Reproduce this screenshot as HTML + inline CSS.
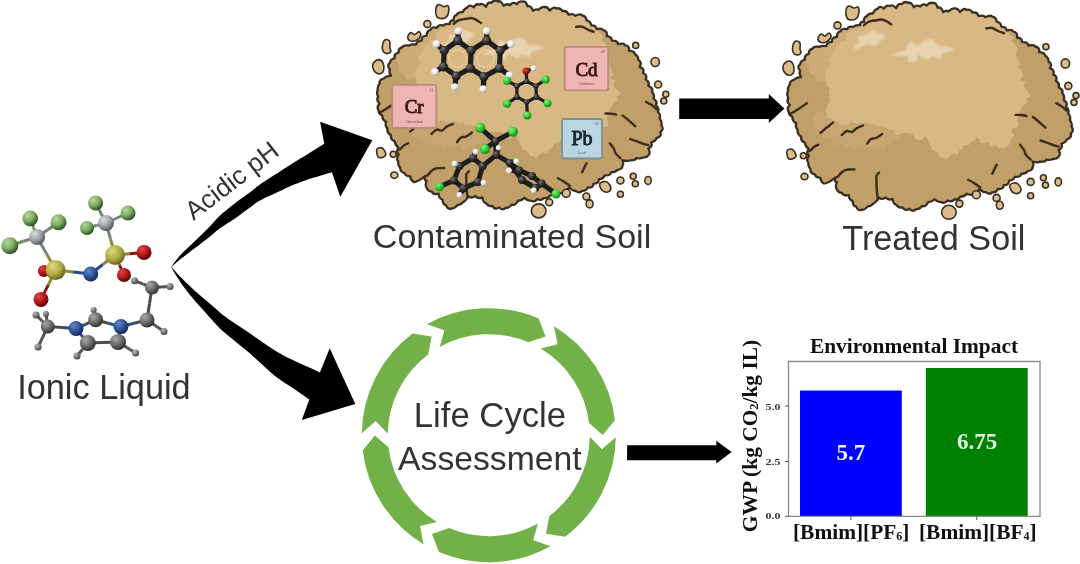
<!DOCTYPE html>
<html><head><meta charset="utf-8"><style>
html,body{margin:0;padding:0;background:#fff;width:1080px;height:564px;overflow:hidden}
svg{display:block}
svg{will-change:transform;filter:blur(0.3px)}
</style></head><body>
<svg width="1080" height="564" viewBox="0 0 1080 564">
<defs>
 <filter id="soft" x="-20%" y="-20%" width="140%" height="140%"><feGaussianBlur stdDeviation="0.9"/></filter>
 <radialGradient id="gF" cx="35%" cy="30%" r="75%"><stop offset="0" stop-color="#b5d69c"/><stop offset="0.5" stop-color="#80ae64"/><stop offset="1" stop-color="#24441a"/></radialGradient>
 <radialGradient id="gC" cx="35%" cy="30%" r="75%"><stop offset="0" stop-color="#d8dde0"/><stop offset="0.55" stop-color="#9aa0a4"/><stop offset="1" stop-color="#4a4f52"/></radialGradient>
 <radialGradient id="gCd" cx="35%" cy="30%" r="75%"><stop offset="0" stop-color="#a8a8a8"/><stop offset="0.5" stop-color="#6e6e6e"/><stop offset="1" stop-color="#2a2a2a"/></radialGradient>
 <radialGradient id="gS" cx="35%" cy="30%" r="75%"><stop offset="0" stop-color="#dada7a"/><stop offset="0.55" stop-color="#b0ad45"/><stop offset="1" stop-color="#5f5c18"/></radialGradient>
 <radialGradient id="gO" cx="35%" cy="30%" r="75%"><stop offset="0" stop-color="#e04848"/><stop offset="0.55" stop-color="#b01414"/><stop offset="1" stop-color="#4a0404"/></radialGradient>
 <radialGradient id="gN" cx="35%" cy="30%" r="75%"><stop offset="0" stop-color="#6286c8"/><stop offset="0.55" stop-color="#2f4f96"/><stop offset="1" stop-color="#142450"/></radialGradient>
 <radialGradient id="gHd" cx="35%" cy="30%" r="75%"><stop offset="0" stop-color="#b8b8b8"/><stop offset="0.55" stop-color="#777"/><stop offset="1" stop-color="#3a3a3a"/></radialGradient>
 <radialGradient id="gH" cx="35%" cy="30%" r="75%"><stop offset="0" stop-color="#f4f4f4"/><stop offset="0.6" stop-color="#c4c4c4"/><stop offset="1" stop-color="#777"/></radialGradient>
 <radialGradient id="gCl" cx="35%" cy="30%" r="75%"><stop offset="0" stop-color="#8cf08c"/><stop offset="0.55" stop-color="#2fc42f"/><stop offset="1" stop-color="#137a13"/></radialGradient>
 <radialGradient id="gK" cx="35%" cy="30%" r="75%"><stop offset="0" stop-color="#777"/><stop offset="0.5" stop-color="#333"/><stop offset="1" stop-color="#111"/></radialGradient>
 <radialGradient id="gW" cx="35%" cy="30%" r="75%"><stop offset="0" stop-color="#ffffff"/><stop offset="0.6" stop-color="#e6e6e6"/><stop offset="1" stop-color="#9a9a9a"/></radialGradient>
</defs>

<g>
<line x1="30.2" y1="218.4" x2="33.6" y2="227.7" stroke="#6a8a58" stroke-width="3"/>
<line x1="33.6" y1="227.7" x2="37.1" y2="237.0" stroke="#7a8084" stroke-width="3"/>
<line x1="58.5" y1="222.3" x2="47.8" y2="229.7" stroke="#6a8a58" stroke-width="3"/>
<line x1="47.8" y1="229.7" x2="37.1" y2="237.0" stroke="#7a8084" stroke-width="3"/>
<line x1="9.8" y1="245.7" x2="23.5" y2="241.3" stroke="#6a8a58" stroke-width="3"/>
<line x1="23.5" y1="241.3" x2="37.1" y2="237.0" stroke="#7a8084" stroke-width="3"/>
<line x1="37.1" y1="237.0" x2="46.4" y2="253.6" stroke="#7a8084" stroke-width="3"/>
<line x1="46.4" y1="253.6" x2="55.6" y2="270.1" stroke="#8a8838" stroke-width="3"/>
<line x1="55.6" y1="270.1" x2="49.8" y2="270.6" stroke="#8a8838" stroke-width="3"/>
<line x1="49.8" y1="270.6" x2="43.9" y2="271.1" stroke="#901414" stroke-width="3"/>
<line x1="55.6" y1="270.1" x2="48.3" y2="284.8" stroke="#8a8838" stroke-width="3"/>
<line x1="48.3" y1="284.8" x2="41.0" y2="299.4" stroke="#901414" stroke-width="3"/>
<line x1="55.6" y1="270.1" x2="73.2" y2="272.1" stroke="#8a8838" stroke-width="3"/>
<line x1="73.2" y1="272.1" x2="90.7" y2="274.0" stroke="#2a4a8a" stroke-width="3"/>
<line x1="90.7" y1="274.0" x2="102.8" y2="264.5" stroke="#2a4a8a" stroke-width="3"/>
<line x1="102.8" y1="264.5" x2="115.0" y2="255.0" stroke="#8a8838" stroke-width="3"/>
<line x1="115.0" y1="255.0" x2="110.5" y2="239.0" stroke="#8a8838" stroke-width="3"/>
<line x1="110.5" y1="239.0" x2="106.0" y2="223.0" stroke="#7a8084" stroke-width="3"/>
<line x1="106.0" y1="223.0" x2="100.8" y2="213.0" stroke="#7a8084" stroke-width="3"/>
<line x1="100.8" y1="213.0" x2="95.6" y2="203.0" stroke="#6a8a58" stroke-width="3"/>
<line x1="106.0" y1="223.0" x2="117.0" y2="218.0" stroke="#7a8084" stroke-width="3"/>
<line x1="117.0" y1="218.0" x2="128.0" y2="213.0" stroke="#6a8a58" stroke-width="3"/>
<line x1="106.0" y1="223.0" x2="96.5" y2="225.5" stroke="#7a8084" stroke-width="3"/>
<line x1="96.5" y1="225.5" x2="87.0" y2="228.0" stroke="#6a8a58" stroke-width="3"/>
<line x1="115.0" y1="255.0" x2="129.5" y2="253.7" stroke="#8a8838" stroke-width="3"/>
<line x1="129.5" y1="253.7" x2="144.0" y2="252.4" stroke="#901414" stroke-width="3"/>
<line x1="115.0" y1="255.0" x2="119.5" y2="265.0" stroke="#8a8838" stroke-width="3"/>
<line x1="119.5" y1="265.0" x2="124.0" y2="275.0" stroke="#901414" stroke-width="3"/>
<line x1="47.8" y1="326.6" x2="41.9" y2="320.8" stroke="#4a4a4a" stroke-width="3"/>
<line x1="41.9" y1="320.8" x2="36.0" y2="315.0" stroke="#555" stroke-width="3"/>
<line x1="47.8" y1="326.6" x2="46.9" y2="320.3" stroke="#4a4a4a" stroke-width="3"/>
<line x1="46.9" y1="320.3" x2="46.0" y2="314.0" stroke="#555" stroke-width="3"/>
<line x1="47.8" y1="326.6" x2="42.9" y2="336.8" stroke="#4a4a4a" stroke-width="3"/>
<line x1="42.9" y1="336.8" x2="38.0" y2="347.0" stroke="#555" stroke-width="3"/>
<line x1="47.8" y1="326.6" x2="61.9" y2="327.6" stroke="#4a4a4a" stroke-width="3"/>
<line x1="61.9" y1="327.6" x2="76.0" y2="328.5" stroke="#2a4a8a" stroke-width="3"/>
<line x1="76.0" y1="328.5" x2="85.8" y2="324.1" stroke="#2a4a8a" stroke-width="3"/>
<line x1="85.8" y1="324.1" x2="95.6" y2="319.8" stroke="#4a4a4a" stroke-width="3"/>
<line x1="95.6" y1="319.8" x2="94.7" y2="314.9" stroke="#4a4a4a" stroke-width="3"/>
<line x1="94.7" y1="314.9" x2="93.7" y2="310.0" stroke="#555" stroke-width="3"/>
<line x1="95.6" y1="319.8" x2="108.3" y2="323.2" stroke="#4a4a4a" stroke-width="3"/>
<line x1="108.3" y1="323.2" x2="121.0" y2="326.6" stroke="#2a4a8a" stroke-width="3"/>
<line x1="121.0" y1="326.6" x2="119.5" y2="334.3" stroke="#2a4a8a" stroke-width="3"/>
<line x1="119.5" y1="334.3" x2="118.0" y2="342.0" stroke="#4a4a4a" stroke-width="3"/>
<line x1="118.0" y1="342.0" x2="102.9" y2="342.5" stroke="#4a4a4a" stroke-width="3"/>
<line x1="102.9" y1="342.5" x2="87.8" y2="343.0" stroke="#4a4a4a" stroke-width="3"/>
<line x1="87.8" y1="343.0" x2="81.9" y2="335.8" stroke="#4a4a4a" stroke-width="3"/>
<line x1="81.9" y1="335.8" x2="76.0" y2="328.5" stroke="#2a4a8a" stroke-width="3"/>
<line x1="87.8" y1="343.0" x2="82.4" y2="349.5" stroke="#4a4a4a" stroke-width="3"/>
<line x1="82.4" y1="349.5" x2="77.0" y2="356.0" stroke="#555" stroke-width="3"/>
<line x1="118.0" y1="342.0" x2="126.8" y2="347.5" stroke="#4a4a4a" stroke-width="3"/>
<line x1="126.8" y1="347.5" x2="135.6" y2="353.0" stroke="#555" stroke-width="3"/>
<line x1="121.0" y1="326.6" x2="134.0" y2="323.3" stroke="#2a4a8a" stroke-width="3"/>
<line x1="134.0" y1="323.3" x2="147.0" y2="320.0" stroke="#4a4a4a" stroke-width="3"/>
<line x1="147.0" y1="320.0" x2="155.5" y2="325.8" stroke="#4a4a4a" stroke-width="3"/>
<line x1="155.5" y1="325.8" x2="164.0" y2="331.5" stroke="#555" stroke-width="3"/>
<line x1="147.0" y1="320.0" x2="149.5" y2="303.8" stroke="#4a4a4a" stroke-width="3"/>
<line x1="149.5" y1="303.8" x2="152.0" y2="287.6" stroke="#4a4a4a" stroke-width="3"/>
<line x1="152.0" y1="287.6" x2="161.0" y2="287.1" stroke="#4a4a4a" stroke-width="3"/>
<line x1="161.0" y1="287.1" x2="170.0" y2="286.6" stroke="#555" stroke-width="3"/>
<line x1="152.0" y1="287.6" x2="143.3" y2="284.1" stroke="#4a4a4a" stroke-width="3"/>
<line x1="143.3" y1="284.1" x2="134.6" y2="280.7" stroke="#555" stroke-width="3"/>
<circle cx="43.9" cy="271.1" r="6.0" fill="url(#gO)"/>
<circle cx="30.2" cy="218.4" r="7.8" fill="url(#gF)"/>
<circle cx="58.5" cy="222.3" r="8.0" fill="url(#gF)"/>
<circle cx="9.8" cy="245.7" r="8.5" fill="url(#gF)"/>
<circle cx="37.1" cy="237.0" r="8.0" fill="url(#gC)"/>
<circle cx="55.6" cy="270.1" r="10.0" fill="url(#gS)"/>
<circle cx="41.0" cy="299.4" r="7.5" fill="url(#gO)"/>
<circle cx="90.7" cy="274.0" r="7.5" fill="url(#gN)"/>
<circle cx="95.6" cy="203.0" r="7.5" fill="url(#gF)"/>
<circle cx="128.0" cy="213.0" r="7.5" fill="url(#gF)"/>
<circle cx="87.0" cy="228.0" r="7.0" fill="url(#gF)"/>
<circle cx="106.0" cy="223.0" r="8.0" fill="url(#gC)"/>
<circle cx="115.0" cy="255.0" r="10.0" fill="url(#gS)"/>
<circle cx="144.0" cy="252.4" r="7.5" fill="url(#gO)"/>
<circle cx="124.0" cy="275.0" r="7.0" fill="url(#gO)"/>
<circle cx="36.0" cy="315.0" r="3.5" fill="url(#gHd)"/>
<circle cx="46.0" cy="314.0" r="3.0" fill="url(#gHd)"/>
<circle cx="38.0" cy="347.0" r="3.5" fill="url(#gHd)"/>
<circle cx="47.8" cy="326.6" r="7.0" fill="url(#gCd)"/>
<circle cx="93.7" cy="310.0" r="3.0" fill="url(#gHd)"/>
<circle cx="95.6" cy="319.8" r="7.5" fill="url(#gCd)"/>
<circle cx="76.0" cy="328.5" r="7.5" fill="url(#gN)"/>
<circle cx="121.0" cy="326.6" r="7.5" fill="url(#gN)"/>
<circle cx="77.0" cy="356.0" r="3.5" fill="url(#gHd)"/>
<circle cx="135.6" cy="353.0" r="3.5" fill="url(#gHd)"/>
<circle cx="87.8" cy="343.0" r="8.0" fill="url(#gCd)"/>
<circle cx="118.0" cy="342.0" r="8.0" fill="url(#gCd)"/>
<circle cx="164.0" cy="331.5" r="3.5" fill="url(#gHd)"/>
<circle cx="147.0" cy="320.0" r="7.5" fill="url(#gCd)"/>
<circle cx="170.0" cy="286.6" r="3.5" fill="url(#gHd)"/>
<circle cx="134.6" cy="280.7" r="3.5" fill="url(#gHd)"/>
<circle cx="152.0" cy="287.6" r="7.0" fill="url(#gCd)"/>
</g>
<text x="17.2" y="399.0" font-family="Liberation Sans" font-size="34.3" font-weight="normal" fill="#333333" text-anchor="start" >Ionic Liquid</text>
<text x="372.8" y="248.0" font-family="Liberation Sans" font-size="34.1" font-weight="normal" fill="#333333" text-anchor="start" >Contaminated Soil</text>
<text x="842.3" y="250.0" font-family="Liberation Sans" font-size="34.2" font-weight="normal" fill="#333333" text-anchor="start" >Treated Soil</text>
<text x="413.8" y="426.5" font-family="Liberation Sans" font-size="34.7" font-weight="normal" fill="#333333" text-anchor="start" >Life Cycle</text>
<text x="398.1" y="470.0" font-family="Liberation Sans" font-size="33.7" font-weight="normal" fill="#333333" text-anchor="start" >Assessment</text>
<text x="0" y="0" font-family="Liberation Sans" font-size="26" fill="#333333" transform="translate(193.5,221) rotate(-37.5)">Acidic pH</text>
<path d="M171.5,266.5 C172.9,264.7 176.1,259.8 180.0,255.5 C183.9,251.2 190.0,245.9 195.0,241.0 C200.0,236.1 205.8,230.6 210.0,226.3 C214.2,222.1 215.8,219.3 220.0,215.5 C224.2,211.7 230.0,207.1 235.0,203.2 C240.0,199.3 245.8,195.4 250.0,192.3 C254.2,189.2 255.0,188.0 260.0,184.5 C265.0,181.0 273.3,175.8 280.0,171.5 C286.7,167.2 292.6,163.4 300.0,158.8 C307.4,154.2 320.2,146.2 324.3,143.7 L320.1,121.8 L372.3,140.3 L340.3,196.7 L331.9,172.3 C326.6,174.0 308.6,179.1 300.0,182.2 C291.4,185.3 286.7,187.9 280.0,191.0 C273.3,194.1 265.0,197.8 260.0,200.5 C255.0,203.2 254.2,204.5 250.0,207.5 C245.8,210.5 240.0,215.0 235.0,218.5 C230.0,222.0 224.2,225.3 220.0,228.3 C215.8,231.3 214.2,233.2 210.0,236.5 C205.8,239.8 200.0,244.3 195.0,248.1 C190.0,251.9 183.9,256.4 180.0,259.5 C176.1,262.6 172.9,265.8 171.5,267.0 Z" fill="#000"/>
<path d="M171.5,266.5 C172.1,267.3 172.8,268.6 175.0,271.1 C177.2,273.6 181.7,278.2 185.0,281.5 C188.3,284.8 191.7,288.0 195.0,291.0 C198.3,294.0 201.7,296.7 205.0,299.5 C208.3,302.3 211.7,305.2 215.0,308.0 C218.3,310.8 219.2,312.2 225.0,316.5 C230.8,320.8 241.7,327.8 250.0,333.5 C258.3,339.2 267.5,345.9 275.0,350.5 C282.5,355.1 287.5,357.5 295.0,361.1 C302.5,364.8 315.8,370.5 319.9,372.4 L329.7,348.3 L355.3,404.1 L301.8,419.9 L309.3,399.6 C306.9,397.9 300.7,393.4 295.0,389.5 C289.3,385.6 282.5,382.1 275.0,376.1 C267.5,370.1 258.3,360.7 250.0,353.5 C241.7,346.3 230.8,338.1 225.0,333.0 C219.2,327.9 218.3,326.7 215.0,323.2 C211.7,319.7 208.3,315.7 205.0,312.0 C201.7,308.3 198.3,304.8 195.0,300.9 C191.7,297.0 188.3,293.1 185.0,288.6 C181.7,284.1 177.2,277.2 175.0,273.7 C172.8,270.2 172.1,268.5 171.5,267.5 Z" fill="#000"/>
<path d="M679.2,98.6 H768.8 V94 L784.4,108.6 L768.8,123.1 V119 H679.2 Z" fill="#000"/>
<path d="M627.1,445.3 H716.3 V440.7 L731.6,452.1 L716.3,463.4 V460.2 H627.1 Z" fill="#000"/>
<path d="M615.8,437.2 A127.0,127.0 0 0 1 565.1,536.8 L546.0,533.8 L549.4,516.0 A101.0,101.0 0 0 0 589.8,436.8 L601.9,449.3 Z" fill="#72b048"/>
<path d="M550.6,546.2 A127.0,127.0 0 0 1 439.0,552.0 L432.0,534.0 L449.2,528.1 A101.0,101.0 0 0 0 537.9,523.5 L533.2,540.2 Z" fill="#72b048"/>
<path d="M423.6,544.2 A127.0,127.0 0 0 1 362.7,450.5 L374.8,435.4 L388.5,447.3 A101.0,101.0 0 0 0 436.9,521.9 L420.0,526.1 Z" fill="#72b048"/>
<path d="M361.8,433.2 A127.0,127.0 0 0 1 412.5,333.6 L431.6,336.6 L428.2,354.4 A101.0,101.0 0 0 0 387.8,433.6 L375.7,421.1 Z" fill="#72b048"/>
<path d="M427.0,324.2 A127.0,127.0 0 0 1 538.6,318.4 L545.6,336.4 L528.4,342.3 A101.0,101.0 0 0 0 439.7,346.9 L444.4,330.2 Z" fill="#72b048"/>
<path d="M554.0,326.2 A127.0,127.0 0 0 1 614.9,419.9 L602.8,435.0 L589.1,423.1 A101.0,101.0 0 0 0 540.7,348.5 L557.6,344.3 Z" fill="#72b048"/>
<rect x="800" y="390.5" width="101.8" height="125.5" fill="#0000ff"/>
<rect x="925.8" y="368" width="101.9" height="148" fill="#008000"/>
<path d="M788.5,361.5 H1040 V516.3 H788.5 Z" fill="none" stroke="#8a8a8a" stroke-width="1.3"/>
<line x1="785" y1="406.0" x2="788.5" y2="406.0" stroke="#555" stroke-width="1"/>
<line x1="785" y1="461.5" x2="788.5" y2="461.5" stroke="#555" stroke-width="1"/>
<line x1="785" y1="516.3" x2="788.5" y2="516.3" stroke="#555" stroke-width="1"/>
<line x1="850.9" y1="516.3" x2="850.9" y2="520" stroke="#555" stroke-width="1"/>
<line x1="976.8" y1="516.3" x2="976.8" y2="520" stroke="#555" stroke-width="1"/>
<text x="914.0" y="353.0" font-family="Liberation Serif" font-size="21.4" font-weight="bold" fill="#111" text-anchor="middle" >Environmental Impact</text>
<text x="850.9" y="459.5" font-family="Liberation Serif" font-size="23.0" font-weight="bold" fill="#eef0ff" text-anchor="middle" >5.7</text>
<text x="977.0" y="449.0" font-family="Liberation Serif" font-size="23.0" font-weight="bold" fill="#e4f4e4" text-anchor="middle" >6.75</text>
<text x="793" y="538.5" font-family="Liberation Serif" font-size="21.4" font-weight="bold" fill="#111">[Bmim][PF<tspan font-size="12" dy="1">6</tspan><tspan dy="-1">]</tspan></text>
<text x="919" y="538.5" font-family="Liberation Serif" font-size="21.4" font-weight="bold" fill="#111">[Bmim][BF<tspan font-size="12" dy="1">4</tspan><tspan dy="-1">]</tspan></text>
<text x="0" y="0" font-family="Liberation Serif" font-size="21.4" font-weight="bold" fill="#111" text-anchor="middle" transform="translate(757,436) rotate(-90)">GWP (kg CO<tspan font-size="12.5" dy="1">2</tspan><tspan dy="-1">/kg IL)</tspan></text>
<text x="0" y="0" font-family="Liberation Serif" font-size="10" font-weight="bold" fill="#333" text-anchor="middle" transform="translate(773,409.5) scale(1.2,0.72)">5.0</text>
<text x="0" y="0" font-family="Liberation Serif" font-size="10" font-weight="bold" fill="#333" text-anchor="middle" transform="translate(773,464.8) scale(1.2,0.72)">2.5</text>
<text x="0" y="0" font-family="Liberation Serif" font-size="10" font-weight="bold" fill="#333" text-anchor="middle" transform="translate(773,519.3) scale(1.2,0.72)">0.0</text>
<defs><clipPath id="pclip"><path d="M797.7,130.0Q794.8,126.9 796.3,123.2Q791.6,120.5 792.7,117.2Q788.3,114.7 788.9,111.9Q786.3,108.4 789.8,105.0Q786.0,101.4 788.4,98.2Q786.4,94.5 788.0,91.2Q787.3,87.6 790.0,84.6Q788.9,81.3 794.7,79.4Q795.7,77.7 801.2,77.0Q798.6,73.4 800.2,71.0Q796.5,66.4 800.2,64.2Q800.1,60.9 805.0,59.6Q803.7,55.3 808.8,53.9Q808.4,49.9 812.9,48.3Q813.5,46.1 819.5,46.9Q821.2,45.4 826.3,46.1Q826.6,42.3 832.0,41.9Q831.5,37.3 836.9,37.0Q836.7,32.2 840.8,31.2Q841.6,27.9 847.2,29.2Q848.2,25.7 853.6,26.8Q855.6,24.7 860.0,25.4Q860.0,21.1 863.9,22.1Q863.6,16.8 866.6,16.5Q868.5,13.0 872.8,13.6Q874.5,9.6 877.8,8.7Q879.5,5.3 884.0,8.6Q886.1,4.7 890.0,6.0Q892.2,4.0 896.2,8.2Q898.1,2.7 901.7,4.2Q904.4,0.4 908.4,3.0Q910.7,1.4 913.9,7.2Q916.9,4.4 920.2,6.6Q923.5,2.6 926.8,5.6Q930.0,1.7 932.8,3.1Q935.7,1.7 937.8,7.8Q941.1,6.4 943.2,12.2Q946.3,9.9 948.5,11.3Q952.1,8.0 954.5,8.4Q957.9,8.1 960.0,12.0Q964.5,7.4 966.2,9.9Q970.5,8.8 972.6,12.6Q977.1,11.6 978.6,16.1Q983.3,14.6 985.4,17.2Q990.4,14.6 992.2,16.7Q996.1,17.2 996.8,21.7Q1000.7,22.4 1001.5,26.8Q1006.2,26.5 1006.7,30.5Q1012.2,29.0 1013.2,31.6Q1017.9,32.2 1016.9,37.5Q1022.1,37.9 1022.1,42.1Q1028.3,41.8 1028.2,45.5Q1034.7,44.2 1034.9,46.5Q1040.4,47.4 1039.0,52.1Q1044.9,52.5 1045.0,55.5Q1048.7,57.7 1048.5,61.4Q1052.6,63.6 1049.9,68.2Q1055.2,70.2 1053.2,74.4Q1058.1,76.7 1055.8,80.8Q1060.1,83.5 1058.6,87.2Q1063.7,89.7 1062.2,93.1Q1065.1,96.4 1063.7,100.0Q1068.3,103.1 1065.9,106.6Q1070.0,109.9 1068.1,113.2Q1071.3,116.8 1069.8,120.0Q1072.5,123.6 1071.6,126.8Q1074.6,130.7 1070.5,133.6Q1072.5,137.3 1066.8,139.5Q1066.0,142.2 1061.4,143.9Q1063.3,147.9 1058.5,149.9Q1061.0,154.1 1058.6,156.7Q1057.7,158.5 1053.0,159.0Q1051.8,160.2 1046.2,159.6Q1046.0,162.0 1039.6,161.7Q1039.4,163.1 1032.6,161.5Q1034.2,164.9 1032.7,166.8Q1032.9,170.5 1027.7,171.2Q1026.0,173.5 1021.2,173.8Q1020.8,177.2 1014.9,176.8Q1013.9,180.2 1009.1,180.6Q1009.1,185.3 1003.7,185.1Q1003.5,189.8 997.8,188.9Q996.6,192.7 991.7,192.3Q990.8,195.3 985.2,192.1Q983.6,192.5 979.3,189.0Q977.5,192.6 973.7,193.1Q971.7,196.1 966.8,193.8Q964.4,196.8 960.5,196.7Q958.1,200.1 954.2,199.5Q951.6,202.5 947.5,200.4Q944.8,204.2 940.9,202.0Q938.0,202.7 934.5,199.3Q931.5,202.5 928.2,202.1Q925.3,207.6 922.3,205.8Q919.1,209.8 916.2,209.1Q912.3,212.7 909.4,208.8Q905.3,211.7 902.5,207.4Q898.7,208.4 896.2,204.6Q893.5,204.3 892.5,198.8Q888.1,200.8 885.7,197.4Q881.0,200.3 879.0,197.5Q875.3,202.8 874.4,202.8Q869.9,206.9 868.3,206.0Q863.8,210.5 862.5,209.7Q857.4,211.4 856.4,206.7Q852.8,206.1 852.7,200.9Q849.1,200.0 848.8,195.1Q843.3,196.5 842.2,193.0Q837.8,192.5 836.7,188.9Q835.0,187.1 836.9,182.1Q833.4,182.0 835.9,177.1Q830.8,180.9 830.2,181.2Q824.7,184.0 823.9,183.4Q820.7,181.6 820.4,177.8Q815.4,177.5 814.9,174.5Q810.1,173.3 810.5,169.3Q807.9,166.7 808.4,162.6Q805.8,160.4 808.9,155.7Q805.9,153.3 808.6,148.8Q805.1,146.3 805.0,142.8Q800.2,140.6 801.3,136.8Q796.8,134.0 797.7,130.0Z"/></clipPath><g id="pile"><path d="M797.7,130.0Q794.8,126.9 796.3,123.2Q791.6,120.5 792.7,117.2Q788.3,114.7 788.9,111.9Q786.3,108.4 789.8,105.0Q786.0,101.4 788.4,98.2Q786.4,94.5 788.0,91.2Q787.3,87.6 790.0,84.6Q788.9,81.3 794.7,79.4Q795.7,77.7 801.2,77.0Q798.6,73.4 800.2,71.0Q796.5,66.4 800.2,64.2Q800.1,60.9 805.0,59.6Q803.7,55.3 808.8,53.9Q808.4,49.9 812.9,48.3Q813.5,46.1 819.5,46.9Q821.2,45.4 826.3,46.1Q826.6,42.3 832.0,41.9Q831.5,37.3 836.9,37.0Q836.7,32.2 840.8,31.2Q841.6,27.9 847.2,29.2Q848.2,25.7 853.6,26.8Q855.6,24.7 860.0,25.4Q860.0,21.1 863.9,22.1Q863.6,16.8 866.6,16.5Q868.5,13.0 872.8,13.6Q874.5,9.6 877.8,8.7Q879.5,5.3 884.0,8.6Q886.1,4.7 890.0,6.0Q892.2,4.0 896.2,8.2Q898.1,2.7 901.7,4.2Q904.4,0.4 908.4,3.0Q910.7,1.4 913.9,7.2Q916.9,4.4 920.2,6.6Q923.5,2.6 926.8,5.6Q930.0,1.7 932.8,3.1Q935.7,1.7 937.8,7.8Q941.1,6.4 943.2,12.2Q946.3,9.9 948.5,11.3Q952.1,8.0 954.5,8.4Q957.9,8.1 960.0,12.0Q964.5,7.4 966.2,9.9Q970.5,8.8 972.6,12.6Q977.1,11.6 978.6,16.1Q983.3,14.6 985.4,17.2Q990.4,14.6 992.2,16.7Q996.1,17.2 996.8,21.7Q1000.7,22.4 1001.5,26.8Q1006.2,26.5 1006.7,30.5Q1012.2,29.0 1013.2,31.6Q1017.9,32.2 1016.9,37.5Q1022.1,37.9 1022.1,42.1Q1028.3,41.8 1028.2,45.5Q1034.7,44.2 1034.9,46.5Q1040.4,47.4 1039.0,52.1Q1044.9,52.5 1045.0,55.5Q1048.7,57.7 1048.5,61.4Q1052.6,63.6 1049.9,68.2Q1055.2,70.2 1053.2,74.4Q1058.1,76.7 1055.8,80.8Q1060.1,83.5 1058.6,87.2Q1063.7,89.7 1062.2,93.1Q1065.1,96.4 1063.7,100.0Q1068.3,103.1 1065.9,106.6Q1070.0,109.9 1068.1,113.2Q1071.3,116.8 1069.8,120.0Q1072.5,123.6 1071.6,126.8Q1074.6,130.7 1070.5,133.6Q1072.5,137.3 1066.8,139.5Q1066.0,142.2 1061.4,143.9Q1063.3,147.9 1058.5,149.9Q1061.0,154.1 1058.6,156.7Q1057.7,158.5 1053.0,159.0Q1051.8,160.2 1046.2,159.6Q1046.0,162.0 1039.6,161.7Q1039.4,163.1 1032.6,161.5Q1034.2,164.9 1032.7,166.8Q1032.9,170.5 1027.7,171.2Q1026.0,173.5 1021.2,173.8Q1020.8,177.2 1014.9,176.8Q1013.9,180.2 1009.1,180.6Q1009.1,185.3 1003.7,185.1Q1003.5,189.8 997.8,188.9Q996.6,192.7 991.7,192.3Q990.8,195.3 985.2,192.1Q983.6,192.5 979.3,189.0Q977.5,192.6 973.7,193.1Q971.7,196.1 966.8,193.8Q964.4,196.8 960.5,196.7Q958.1,200.1 954.2,199.5Q951.6,202.5 947.5,200.4Q944.8,204.2 940.9,202.0Q938.0,202.7 934.5,199.3Q931.5,202.5 928.2,202.1Q925.3,207.6 922.3,205.8Q919.1,209.8 916.2,209.1Q912.3,212.7 909.4,208.8Q905.3,211.7 902.5,207.4Q898.7,208.4 896.2,204.6Q893.5,204.3 892.5,198.8Q888.1,200.8 885.7,197.4Q881.0,200.3 879.0,197.5Q875.3,202.8 874.4,202.8Q869.9,206.9 868.3,206.0Q863.8,210.5 862.5,209.7Q857.4,211.4 856.4,206.7Q852.8,206.1 852.7,200.9Q849.1,200.0 848.8,195.1Q843.3,196.5 842.2,193.0Q837.8,192.5 836.7,188.9Q835.0,187.1 836.9,182.1Q833.4,182.0 835.9,177.1Q830.8,180.9 830.2,181.2Q824.7,184.0 823.9,183.4Q820.7,181.6 820.4,177.8Q815.4,177.5 814.9,174.5Q810.1,173.3 810.5,169.3Q807.9,166.7 808.4,162.6Q805.8,160.4 808.9,155.7Q805.9,153.3 808.6,148.8Q805.1,146.3 805.0,142.8Q800.2,140.6 801.3,136.8Q796.8,134.0 797.7,130.0Z" fill="#c0a068"/>
<g clip-path="url(#pclip)">
<path d="M805.2,62.1 L806.8,59.0 L807.5,55.3 L811.1,53.7 L813.0,50.8 L814.8,47.7 L818.9,46.7 L821.0,43.2 L823.6,40.4 L826.2,37.4 L831.0,37.5 L833.5,34.7 L837.0,33.5 L838.2,28.9 L841.5,27.3 L846.1,27.7 L846.8,22.2 L849.9,20.3 L853.6,19.4 L856.7,17.6 L860.8,17.3 L864.2,15.8 L865.9,11.9 L870.1,11.6 L870.9,8.8 L873.1,11.6 L874.3,15.1 L877.9,17.1 L879.8,19.8 L878.6,23.6 L875.1,25.1 L872.9,27.9 L870.0,30.0 L868.0,33.0 L864.9,34.9 L861.8,36.8 L861.5,41.5 L859.0,44.0 L856.1,46.1 L853.1,48.1 L849.4,49.4 L846.7,51.7 L844.3,54.3 L841.2,56.2 L841.0,60.6 L837.9,62.6 L837.9,66.5 L834.4,68.3 L834.9,72.5 L832.7,75.1 L827.8,76.0 L828.0,78.7 L824.8,81.8 L821.5,79.9 L818.2,82.1 L815.4,79.8 L815.0,76.1 L811.2,74.3 L808.9,71.6 L809.2,67.5 L808.3,64.1 Z" fill="#cdac78"/>
<path d="M815.0,110.2 L818.7,111.1 L822.3,112.8 L826.5,109.7 L829.5,114.4 L833.3,112.7 L837.1,111.4 L839.6,116.1 L843.4,114.4 L846.8,114.8 L849.5,118.3 L853.2,117.3 L856.9,116.3 L860.0,118.2 L863.5,117.3 L866.4,120.6 L869.8,120.6 L873.1,121.7 L876.7,120.2 L880.3,118.6 L883.4,120.7 L886.8,120.2 L889.5,122.3 L892.7,124.4 L891.6,129.0 L894.1,131.5 L897.4,133.6 L899.3,136.5 L899.8,139.7 L895.7,139.8 L892.8,142.3 L889.4,143.7 L886.2,145.7 L884.0,149.7 L880.1,148.5 L876.5,151.7 L873.2,151.4 L870.1,147.1 L866.7,148.5 L863.3,148.8 L860.2,146.3 L856.7,148.1 L853.2,150.2 L850.6,146.2 L846.3,147.3 L843.4,143.9 L839.2,144.9 L835.1,145.3 L832.6,140.9 L829.3,138.8 L826.6,138.6 L822.7,137.6 L822.5,133.4 L820.1,131.1 L816.3,130.0 L812.6,128.9 L812.4,125.1 L813.2,121.3 L812.8,117.4 L816.2,114.1 Z" fill="#c8a672"/>
<path d="M830.2,56.8 L832.1,53.4 L834.2,50.2 L835.9,46.7 L839.1,44.3 L840.4,41.2 L845.8,41.5 L846.1,37.6 L846.6,33.3 L850.0,32.4 L851.7,29.4 L856.7,30.5 L858.1,27.1 L861.5,25.6 L863.2,22.2 L865.7,19.8 L870.2,18.5 L871.6,14.8 L873.6,11.7 L873.1,7.3 L875.0,4.3 L879.1,2.1 L877.4,-2.3 L880.0,-3.2 L883.5,-5.6 L887.1,-3.1 L890.6,-2.5 L894.1,-6.9 L897.6,-3.5 L901.2,-3.6 L904.7,-7.4 L908.2,-6.9 L911.8,-3.9 L915.3,-7.3 L918.8,-5.2 L922.4,-5.9 L925.9,-3.5 L929.4,-7.2 L932.9,-6.0 L936.5,-7.3 L940.0,-7.0 L943.5,-4.0 L947.1,-4.3 L950.6,-3.3 L954.1,-3.2 L957.6,-2.8 L961.2,-4.0 L964.7,-5.5 L968.2,-2.5 L971.8,-5.9 L975.3,-4.2 L978.8,-4.0 L982.4,-6.6 L985.9,-4.9 L989.4,-4.1 L992.9,-4.9 L996.5,-6.0 L997.9,-4.3 L1003.4,-2.2 L1000.0,2.9 L1004.6,5.3 L1006.2,8.8 L1003.4,13.6 L1008.2,16.0 L1007.3,20.1 L1009.2,23.5 L1007.2,27.7 L1008.2,31.3 L1009.6,34.7 L1014.2,37.4 L1011.5,41.6 L1015.1,44.0 L1016.8,47.0 L1017.8,50.2 L1015.8,54.2 L1016.8,57.3 L1018.3,60.3 L1020.1,63.3 L1017.5,67.1 L1021.3,69.6 L1022.1,72.7 L1023.0,75.5 L1020.4,80.2 L1025.9,81.7 L1023.2,86.5 L1025.6,89.2 L1028.1,91.9 L1030.8,96.2 L1026.7,98.0 L1027.8,102.3 L1024.5,104.5 L1022.0,107.0 L1020.4,110.3 L1018.9,113.4 L1017.5,116.6 L1017.1,119.7 L1018.2,123.7 L1018.3,127.3 L1013.1,128.5 L1011.3,131.1 L1014.4,135.4 L1011.7,138.3 L1010.5,141.5 L1010.1,143.6 L1007.5,146.3 L1004.8,148.4 L1001.1,147.7 L998.2,148.5 L995.6,145.3 L990.4,147.5 L988.7,141.8 L984.7,142.9 L980.8,143.4 L979.7,139.9 L976.8,137.6 L974.8,140.8 L971.1,142.0 L969.0,145.0 L963.9,145.3 L962.4,149.1 L959.4,150.4 L957.4,154.9 L953.1,153.5 L950.2,155.5 L946.2,159.4 L943.4,157.7 L940.2,157.3 L938.2,153.8 L935.8,151.7 L932.7,150.3 L931.3,147.2 L929.9,144.5 L928.1,142.1 L927.9,138.9 L924.9,136.4 L921.8,139.9 L916.7,139.9 L914.6,136.5 L912.0,134.0 L908.4,133.7 L905.5,133.0 L902.3,133.1 L898.6,134.8 L895.0,134.1 L893.0,129.8 L888.5,129.4 L885.8,127.4 L882.7,126.6 L879.5,126.0 L876.2,126.1 L873.3,123.7 L869.9,125.0 L866.4,122.4 L862.5,122.9 L858.6,123.8 L855.1,122.9 L851.1,121.5 L847.8,125.2 L843.8,124.2 L839.8,124.4 L838.0,120.4 L833.9,121.5 L832.0,119.3 L828.3,117.7 L827.1,114.3 L826.0,110.8 L827.4,107.8 L827.3,104.5 L830.2,101.8 L829.4,98.3 L829.5,95.5 L828.5,92.4 L830.2,88.8 L827.1,86.1 L826.4,82.9 L826.6,79.6 L824.6,75.7 L825.3,72.6 L828.1,69.8 L828.7,66.7 L831.1,63.9 L828.4,60.0 Z" fill="#d8b884"/>
<path d="M852.0,48.0 L860.0,42.0 L858.0,37.0 L868.0,34.0 L872.0,30.0 L878.0,33.0 L886.0,35.0 L880.0,41.0 L876.0,46.0 L866.0,44.0 L858.0,49.0 Z" fill="#e8d4b0" filter="url(#soft)"/>
<path d="M890.5,56.0 L905.0,50.0 L910.0,41.0 L918.0,46.0 L925.0,40.0 L933.0,39.0 L938.0,46.0 L950.0,47.0 L955.0,50.0 L942.0,53.0 L940.0,59.0 L932.0,56.0 L928.0,60.0 L918.0,55.0 L916.0,62.0 L908.0,62.0 L908.0,56.0 Z" fill="#e8d4b0" filter="url(#soft)"/>
</g>
<path d="M797.7,130.0Q794.8,126.9 796.3,123.2Q791.6,120.5 792.7,117.2Q788.3,114.7 788.9,111.9Q786.3,108.4 789.8,105.0Q786.0,101.4 788.4,98.2Q786.4,94.5 788.0,91.2Q787.3,87.6 790.0,84.6Q788.9,81.3 794.7,79.4Q795.7,77.7 801.2,77.0Q798.6,73.4 800.2,71.0Q796.5,66.4 800.2,64.2Q800.1,60.9 805.0,59.6Q803.7,55.3 808.8,53.9Q808.4,49.9 812.9,48.3Q813.5,46.1 819.5,46.9Q821.2,45.4 826.3,46.1Q826.6,42.3 832.0,41.9Q831.5,37.3 836.9,37.0Q836.7,32.2 840.8,31.2Q841.6,27.9 847.2,29.2Q848.2,25.7 853.6,26.8Q855.6,24.7 860.0,25.4Q860.0,21.1 863.9,22.1Q863.6,16.8 866.6,16.5Q868.5,13.0 872.8,13.6Q874.5,9.6 877.8,8.7Q879.5,5.3 884.0,8.6Q886.1,4.7 890.0,6.0Q892.2,4.0 896.2,8.2Q898.1,2.7 901.7,4.2Q904.4,0.4 908.4,3.0Q910.7,1.4 913.9,7.2Q916.9,4.4 920.2,6.6Q923.5,2.6 926.8,5.6Q930.0,1.7 932.8,3.1Q935.7,1.7 937.8,7.8Q941.1,6.4 943.2,12.2Q946.3,9.9 948.5,11.3Q952.1,8.0 954.5,8.4Q957.9,8.1 960.0,12.0Q964.5,7.4 966.2,9.9Q970.5,8.8 972.6,12.6Q977.1,11.6 978.6,16.1Q983.3,14.6 985.4,17.2Q990.4,14.6 992.2,16.7Q996.1,17.2 996.8,21.7Q1000.7,22.4 1001.5,26.8Q1006.2,26.5 1006.7,30.5Q1012.2,29.0 1013.2,31.6Q1017.9,32.2 1016.9,37.5Q1022.1,37.9 1022.1,42.1Q1028.3,41.8 1028.2,45.5Q1034.7,44.2 1034.9,46.5Q1040.4,47.4 1039.0,52.1Q1044.9,52.5 1045.0,55.5Q1048.7,57.7 1048.5,61.4Q1052.6,63.6 1049.9,68.2Q1055.2,70.2 1053.2,74.4Q1058.1,76.7 1055.8,80.8Q1060.1,83.5 1058.6,87.2Q1063.7,89.7 1062.2,93.1Q1065.1,96.4 1063.7,100.0Q1068.3,103.1 1065.9,106.6Q1070.0,109.9 1068.1,113.2Q1071.3,116.8 1069.8,120.0Q1072.5,123.6 1071.6,126.8Q1074.6,130.7 1070.5,133.6Q1072.5,137.3 1066.8,139.5Q1066.0,142.2 1061.4,143.9Q1063.3,147.9 1058.5,149.9Q1061.0,154.1 1058.6,156.7Q1057.7,158.5 1053.0,159.0Q1051.8,160.2 1046.2,159.6Q1046.0,162.0 1039.6,161.7Q1039.4,163.1 1032.6,161.5Q1034.2,164.9 1032.7,166.8Q1032.9,170.5 1027.7,171.2Q1026.0,173.5 1021.2,173.8Q1020.8,177.2 1014.9,176.8Q1013.9,180.2 1009.1,180.6Q1009.1,185.3 1003.7,185.1Q1003.5,189.8 997.8,188.9Q996.6,192.7 991.7,192.3Q990.8,195.3 985.2,192.1Q983.6,192.5 979.3,189.0Q977.5,192.6 973.7,193.1Q971.7,196.1 966.8,193.8Q964.4,196.8 960.5,196.7Q958.1,200.1 954.2,199.5Q951.6,202.5 947.5,200.4Q944.8,204.2 940.9,202.0Q938.0,202.7 934.5,199.3Q931.5,202.5 928.2,202.1Q925.3,207.6 922.3,205.8Q919.1,209.8 916.2,209.1Q912.3,212.7 909.4,208.8Q905.3,211.7 902.5,207.4Q898.7,208.4 896.2,204.6Q893.5,204.3 892.5,198.8Q888.1,200.8 885.7,197.4Q881.0,200.3 879.0,197.5Q875.3,202.8 874.4,202.8Q869.9,206.9 868.3,206.0Q863.8,210.5 862.5,209.7Q857.4,211.4 856.4,206.7Q852.8,206.1 852.7,200.9Q849.1,200.0 848.8,195.1Q843.3,196.5 842.2,193.0Q837.8,192.5 836.7,188.9Q835.0,187.1 836.9,182.1Q833.4,182.0 835.9,177.1Q830.8,180.9 830.2,181.2Q824.7,184.0 823.9,183.4Q820.7,181.6 820.4,177.8Q815.4,177.5 814.9,174.5Q810.1,173.3 810.5,169.3Q807.9,166.7 808.4,162.6Q805.8,160.4 808.9,155.7Q805.9,153.3 808.6,148.8Q805.1,146.3 805.0,142.8Q800.2,140.6 801.3,136.8Q796.8,134.0 797.7,130.0Z" fill="none" stroke="#3a2f25" stroke-width="2.3" stroke-linejoin="round"/>
<path d="M790.6,113.8 C791.7,113.2 795.4,111.0 797.0,110.0 C798.6,109.0 798.3,109.1 800.0,108.0 C801.7,106.9 805.8,104.0 807.0,103.2" fill="none" stroke="#3d2c1c" stroke-width="2.4" stroke-linecap="round" stroke-linejoin="round"/>
<path d="M820.4,133.0 C821.3,132.2 824.6,129.2 826.0,128.0 C827.4,126.8 827.8,127.0 829.0,126.0 C830.2,125.0 832.5,122.9 833.2,122.3" fill="none" stroke="#3d2c1c" stroke-width="2.4" stroke-linecap="round" stroke-linejoin="round"/>
<path d="M841.7,135.1 C842.6,134.4 845.3,131.5 847.0,131.0 C848.7,130.5 850.3,132.5 852.0,132.0 C853.7,131.5 855.2,129.1 857.0,128.0 C858.8,126.9 862.0,125.9 863.0,125.5" fill="none" stroke="#3d2c1c" stroke-width="2.4" stroke-linecap="round" stroke-linejoin="round"/>
<path d="M867.2,143.6 C867.8,142.8 869.5,139.9 871.0,139.0 C872.5,138.1 874.1,138.8 876.0,138.0 C877.9,137.2 881.1,134.7 882.1,134.0" fill="none" stroke="#3d2c1c" stroke-width="2.4" stroke-linecap="round" stroke-linejoin="round"/>
<path d="M809.8,151.0 C810.5,150.3 812.6,148.1 814.0,147.0 C815.4,145.9 817.6,145.1 818.3,144.7" fill="none" stroke="#3d2c1c" stroke-width="2.4" stroke-linecap="round" stroke-linejoin="round"/>
<path d="M837.6,177.0 C838.2,176.3 839.7,174.2 841.0,173.0 C842.3,171.8 843.9,170.7 845.4,170.1 C846.9,169.5 848.5,169.6 850.0,169.5 C851.5,169.4 853.7,169.4 854.4,169.4" fill="none" stroke="#3d2c1c" stroke-width="2.4" stroke-linecap="round" stroke-linejoin="round"/>
<path d="M877.8,199.3 C877.6,197.8 877.0,192.9 876.8,190.0 C876.6,187.1 876.5,184.3 876.5,182.0 C876.5,179.7 876.1,177.5 876.5,175.9 C876.9,174.3 878.7,173.2 879.1,172.7" fill="none" stroke="#3d2c1c" stroke-width="2.4" stroke-linecap="round" stroke-linejoin="round"/>
<path d="M1040.5,140.5 C1041.8,140.9 1045.9,142.2 1048.0,143.0 C1050.1,143.8 1051.2,144.4 1053.0,145.0 C1054.8,145.6 1057.7,146.3 1058.6,146.6" fill="none" stroke="#3d2c1c" stroke-width="2.4" stroke-linecap="round" stroke-linejoin="round"/>
<path d="M968.2,179.7 C969.2,180.2 972.0,181.7 974.0,183.0 C976.0,184.3 979.2,186.6 980.2,187.3" fill="none" stroke="#3d2c1c" stroke-width="2.4" stroke-linecap="round" stroke-linejoin="round"/>
<path d="M1015.7,114.9 C1016.6,114.9 1019.2,114.8 1021.0,115.0 C1022.8,115.2 1025.5,115.8 1026.4,116.0" fill="none" stroke="#3d2c1c" stroke-width="2.4" stroke-linecap="round" stroke-linejoin="round"/>
<path d="M1032.8,117.0 C1033.7,117.7 1035.9,119.2 1038.0,121.0 C1040.1,122.8 1044.2,126.6 1045.5,127.7" fill="none" stroke="#3d2c1c" stroke-width="2.4" stroke-linecap="round" stroke-linejoin="round"/>
<path d="M1020.0,144.7 C1020.7,145.6 1023.0,148.3 1024.0,150.0 C1025.0,151.7 1024.9,153.4 1026.0,155.0 C1027.1,156.6 1029.8,158.8 1030.6,159.6" fill="none" stroke="#3d2c1c" stroke-width="2.4" stroke-linecap="round" stroke-linejoin="round"/>
<path d="M992.3,173.7 C992.7,172.9 993.8,170.5 994.5,169.0 C995.2,167.5 996.4,165.4 996.8,164.7" fill="none" stroke="#3d2c1c" stroke-width="2.4" stroke-linecap="round" stroke-linejoin="round"/>
<path d="M1056.2,103.2 C1057.0,103.7 1059.2,104.8 1061.0,106.0 C1062.8,107.2 1065.8,109.8 1066.8,110.6" fill="none" stroke="#3d2c1c" stroke-width="2.4" stroke-linecap="round" stroke-linejoin="round"/>
<path d="M863.9,25.4 C864.6,24.8 866.4,22.8 868.0,22.0 C869.6,21.2 871.9,20.8 873.6,20.5 C875.3,20.2 876.7,20.2 878.0,20.0 C879.3,19.8 880.1,19.3 881.4,19.5 C882.7,19.7 884.4,20.2 886.0,21.0 C887.6,21.8 890.3,23.8 891.2,24.4" fill="none" stroke="#3d2c1c" stroke-width="2.4" stroke-linecap="round" stroke-linejoin="round"/>
<path d="M986.3,28.3 C987.2,28.2 990.0,27.6 992.0,28.0 C994.0,28.4 996.0,30.1 998.0,31.0 C1000.0,31.9 1002.9,32.8 1003.9,33.2" fill="none" stroke="#3d2c1c" stroke-width="2.4" stroke-linecap="round" stroke-linejoin="round"/>
<ellipse cx="837.5" cy="25.4" rx="3.5" ry="3.5" fill="#dcbd8a" stroke="#3a2f25" stroke-width="1.6"/>
<ellipse cx="803.4" cy="155.7" rx="3.0" ry="3.0" fill="#dcbd8a" stroke="#3a2f25" stroke-width="1.6"/>
<ellipse cx="804.5" cy="176.6" rx="3.5" ry="3.2" fill="#dcbd8a" stroke="#3a2f25" stroke-width="1.6"/>
<ellipse cx="1045.9" cy="46.8" rx="3.0" ry="3.0" fill="#dcbd8a" stroke="#3a2f25" stroke-width="1.6"/>
<ellipse cx="1065.4" cy="63.4" rx="4.2" ry="4.5" fill="#dcbd8a" stroke="#3a2f25" stroke-width="1.6"/>
<ellipse cx="1068.3" cy="85.9" rx="3.5" ry="3.5" fill="#dcbd8a" stroke="#3a2f25" stroke-width="1.6"/>
<ellipse cx="1076.0" cy="95.6" rx="3.0" ry="3.0" fill="#dcbd8a" stroke="#3a2f25" stroke-width="1.6"/>
<ellipse cx="1074.0" cy="102.4" rx="3.0" ry="3.0" fill="#dcbd8a" stroke="#3a2f25" stroke-width="1.6"/>
<ellipse cx="948.9" cy="212.3" rx="7.3" ry="7.0" fill="#dcbd8a" stroke="#3a2f25" stroke-width="1.6"/>
<ellipse cx="959.4" cy="203.6" rx="3.5" ry="3.5" fill="#dcbd8a" stroke="#3a2f25" stroke-width="1.6"/>
<ellipse cx="976.4" cy="194.7" rx="4.0" ry="4.0" fill="#dcbd8a" stroke="#3a2f25" stroke-width="1.6"/>
<ellipse cx="996.6" cy="197.9" rx="3.5" ry="3.5" fill="#dcbd8a" stroke="#3a2f25" stroke-width="1.6"/>
<ellipse cx="999.8" cy="205.3" rx="3.5" ry="4.0" fill="#dcbd8a" stroke="#3a2f25" stroke-width="1.6"/>
<ellipse cx="1030.6" cy="181.9" rx="3.5" ry="3.5" fill="#dcbd8a" stroke="#3a2f25" stroke-width="1.6"/>
<ellipse cx="1030.6" cy="195.7" rx="3.0" ry="3.0" fill="#dcbd8a" stroke="#3a2f25" stroke-width="1.6"/>
<ellipse cx="1043.4" cy="177.7" rx="3.0" ry="3.0" fill="#dcbd8a" stroke="#3a2f25" stroke-width="1.6"/>
<ellipse cx="1045.5" cy="185.1" rx="3.0" ry="3.0" fill="#dcbd8a" stroke="#3a2f25" stroke-width="1.6"/>
<ellipse cx="1058.3" cy="181.9" rx="3.2" ry="4.0" fill="#dcbd8a" stroke="#3a2f25" stroke-width="1.6"/>
<path d="M846.0,10.0 C846.3,8.0 847.7,6.3 849.0,6.0 C850.3,5.7 852.5,7.8 854.0,8.0 C855.5,8.2 857.2,6.3 858.0,7.0 C858.8,7.7 859.2,10.2 859.0,12.0 C858.8,13.8 858.2,16.7 857.0,18.0 C855.8,19.3 853.7,20.0 852.0,20.0 C850.3,20.0 848.0,19.7 847.0,18.0 C846.0,16.3 845.7,12.0 846.0,10.0 Z" fill="#dcbd8a" stroke="#3a2f25" stroke-width="1.6" stroke-linejoin="round"/>
<path d="M818.0,38.0 C818.2,36.7 819.8,34.3 821.0,34.0 C822.2,33.7 823.7,36.2 825.0,36.0 C826.3,35.8 828.0,32.8 829.0,33.0 C830.0,33.2 831.5,35.5 831.0,37.0 C830.5,38.5 827.8,41.2 826.0,42.0 C824.2,42.8 821.3,42.7 820.0,42.0 C818.7,41.3 817.8,39.3 818.0,38.0 Z" fill="#dcbd8a" stroke="#3a2f25" stroke-width="1.6" stroke-linejoin="round"/>
<path d="M793.0,45.0 C793.5,43.2 794.8,41.3 796.0,41.0 C797.2,40.7 799.3,41.7 800.0,43.0 C800.7,44.3 799.8,47.3 800.0,49.0 C800.2,50.7 801.5,52.0 801.0,53.0 C800.5,54.0 798.3,55.2 797.0,55.0 C795.7,54.8 793.7,53.7 793.0,52.0 C792.3,50.3 792.5,46.8 793.0,45.0 Z" fill="#dcbd8a" stroke="#3a2f25" stroke-width="1.6" stroke-linejoin="round"/>
<path d="M784.0,64.0 C785.0,62.7 787.5,61.0 789.0,61.0 C790.5,61.0 792.2,62.3 793.0,64.0 C793.8,65.7 794.3,69.2 794.0,71.0 C793.7,72.8 792.3,74.5 791.0,75.0 C789.7,75.5 787.3,75.0 786.0,74.0 C784.7,73.0 783.3,70.7 783.0,69.0 C782.7,67.3 783.0,65.3 784.0,64.0 Z" fill="#dcbd8a" stroke="#3a2f25" stroke-width="1.6" stroke-linejoin="round"/>
<path d="M787.0,151.0 C787.5,149.5 789.8,149.0 791.0,149.0 C792.2,149.0 793.2,149.8 794.0,151.0 C794.8,152.2 796.3,154.7 796.0,156.0 C795.7,157.3 793.3,158.7 792.0,159.0 C790.7,159.3 788.8,159.3 788.0,158.0 C787.2,156.7 786.5,152.5 787.0,151.0 Z" fill="#dcbd8a" stroke="#3a2f25" stroke-width="1.6" stroke-linejoin="round"/>
<path d="M1010.0,185.0 C1010.5,183.8 1012.7,183.2 1014.0,183.0 C1015.3,182.8 1016.8,183.0 1018.0,184.0 C1019.2,185.0 1020.8,187.5 1021.0,189.0 C1021.2,190.5 1020.2,192.3 1019.0,193.0 C1017.8,193.7 1015.3,193.5 1014.0,193.0 C1012.7,192.5 1011.7,191.3 1011.0,190.0 C1010.3,188.7 1009.5,186.2 1010.0,185.0 Z" fill="#dcbd8a" stroke="#3a2f25" stroke-width="1.6" stroke-linejoin="round"/></g></defs>
<use href="#pile"/>
<use href="#pile" x="-410.2" y="-1.4"/>
<rect x="392.2" y="84.8" width="44.1" height="43.1" rx="2" fill="#eeb5b2" stroke="#b88a80" stroke-width="1.8"/>
<text x="414.2" y="113.3" font-family="Liberation Serif" font-weight="normal" font-size="19.0" fill="#3a1818" stroke="#3a1818" stroke-width="0.9" text-anchor="middle">Cr</text>
<text x="414.2" y="123.0" font-family="Liberation Serif" font-size="4" fill="#3a1818" text-anchor="middle" opacity="0.7">Chromium</text>
<text x="433.2" y="90.9" font-family="Liberation Serif" font-size="4" fill="#3a1818" text-anchor="end" opacity="0.6">24</text>
<rect x="564.7" y="46.8" width="43.5" height="43.5" rx="2" fill="#eeb5b2" stroke="#b88a80" stroke-width="1.8"/>
<text x="586.5" y="75.6" font-family="Liberation Serif" font-weight="normal" font-size="19.0" fill="#3a1818" stroke="#3a1818" stroke-width="0.9" text-anchor="middle">Cd</text>
<text x="586.5" y="85.3" font-family="Liberation Serif" font-size="4" fill="#3a1818" text-anchor="middle" opacity="0.7">Cadmium</text>
<text x="605.1" y="52.9" font-family="Liberation Serif" font-size="4" fill="#3a1818" text-anchor="end" opacity="0.6">48</text>
<rect x="562.1" y="119.0" width="39.9" height="39.5" rx="2" fill="#b9d5e2" stroke="#7d9096" stroke-width="1.8"/>
<text x="582.0" y="145.2" font-family="Liberation Serif" font-weight="normal" font-size="20.0" fill="#15252e" stroke="#15252e" stroke-width="0.9" text-anchor="middle">Pb</text>
<text x="582.0" y="154.0" font-family="Liberation Serif" font-size="4" fill="#15252e" text-anchor="middle" opacity="0.7">Lead</text>
<text x="598.9" y="125.1" font-family="Liberation Serif" font-size="4" fill="#15252e" text-anchor="end" opacity="0.6">82</text>
<circle cx="457.5" cy="58.5" r="8.5" fill="none" stroke="#efdcb8" stroke-width="1.6" stroke-dasharray="1.4 1.4"/>
<circle cx="485.5" cy="58.5" r="8.5" fill="none" stroke="#efdcb8" stroke-width="1.6" stroke-dasharray="1.4 1.4"/>
<line x1="457.7" y1="40.6" x2="444.2" y2="50.5" stroke="#1e1e1e" stroke-width="5.2" stroke-linecap="round"/>
<line x1="444.2" y1="50.5" x2="443.5" y2="66.8" stroke="#1e1e1e" stroke-width="5.2" stroke-linecap="round"/>
<line x1="443.5" y1="66.8" x2="456.2" y2="76.0" stroke="#1e1e1e" stroke-width="5.2" stroke-linecap="round"/>
<line x1="456.2" y1="76.0" x2="470.4" y2="68.2" stroke="#1e1e1e" stroke-width="5.2" stroke-linecap="round"/>
<line x1="470.4" y1="68.2" x2="471.1" y2="50.5" stroke="#1e1e1e" stroke-width="5.2" stroke-linecap="round"/>
<line x1="471.1" y1="50.5" x2="457.7" y2="40.6" stroke="#1e1e1e" stroke-width="5.2" stroke-linecap="round"/>
<line x1="471.1" y1="50.5" x2="486.7" y2="40.6" stroke="#1e1e1e" stroke-width="5.2" stroke-linecap="round"/>
<line x1="486.7" y1="40.6" x2="500.2" y2="50.5" stroke="#1e1e1e" stroke-width="5.2" stroke-linecap="round"/>
<line x1="500.2" y1="50.5" x2="499.5" y2="68.2" stroke="#1e1e1e" stroke-width="5.2" stroke-linecap="round"/>
<line x1="499.5" y1="68.2" x2="483.9" y2="76.7" stroke="#1e1e1e" stroke-width="5.2" stroke-linecap="round"/>
<line x1="483.9" y1="76.7" x2="470.4" y2="68.2" stroke="#1e1e1e" stroke-width="5.2" stroke-linecap="round"/>
<line x1="457.7" y1="40.6" x2="458.4" y2="31.0" stroke="#1e1e1e" stroke-width="5.2" stroke-linecap="round"/>
<line x1="444.2" y1="50.5" x2="436.4" y2="44.1" stroke="#1e1e1e" stroke-width="5.2" stroke-linecap="round"/>
<line x1="443.5" y1="66.8" x2="435.0" y2="71.8" stroke="#1e1e1e" stroke-width="5.2" stroke-linecap="round"/>
<line x1="456.2" y1="76.0" x2="454.8" y2="87.0" stroke="#1e1e1e" stroke-width="5.2" stroke-linecap="round"/>
<line x1="486.7" y1="40.6" x2="486.7" y2="31.0" stroke="#1e1e1e" stroke-width="5.2" stroke-linecap="round"/>
<line x1="500.2" y1="50.5" x2="510.9" y2="44.1" stroke="#1e1e1e" stroke-width="5.2" stroke-linecap="round"/>
<line x1="499.5" y1="68.2" x2="509.4" y2="75.3" stroke="#1e1e1e" stroke-width="5.2" stroke-linecap="round"/>
<line x1="483.9" y1="76.7" x2="483.2" y2="89.0" stroke="#1e1e1e" stroke-width="5.2" stroke-linecap="round"/>
<circle cx="457.7" cy="40.6" r="4.6" fill="url(#gK)"/>
<circle cx="444.2" cy="50.5" r="4.6" fill="url(#gK)"/>
<circle cx="443.5" cy="66.8" r="4.6" fill="url(#gK)"/>
<circle cx="456.2" cy="76.0" r="4.6" fill="url(#gK)"/>
<circle cx="470.4" cy="68.2" r="4.6" fill="url(#gK)"/>
<circle cx="471.1" cy="50.5" r="4.6" fill="url(#gK)"/>
<circle cx="486.7" cy="40.6" r="4.6" fill="url(#gK)"/>
<circle cx="500.2" cy="50.5" r="4.6" fill="url(#gK)"/>
<circle cx="499.5" cy="68.2" r="4.6" fill="url(#gK)"/>
<circle cx="483.9" cy="76.7" r="4.6" fill="url(#gK)"/>
<circle cx="458.4" cy="31.0" r="3.8" fill="url(#gW)"/>
<circle cx="436.4" cy="44.1" r="3.8" fill="url(#gW)"/>
<circle cx="435.0" cy="71.8" r="3.8" fill="url(#gW)"/>
<circle cx="454.8" cy="87.0" r="3.8" fill="url(#gW)"/>
<circle cx="486.7" cy="31.0" r="3.8" fill="url(#gW)"/>
<circle cx="510.9" cy="44.1" r="3.8" fill="url(#gW)"/>
<circle cx="509.4" cy="75.3" r="3.8" fill="url(#gW)"/>
<circle cx="483.2" cy="89.0" r="3.8" fill="url(#gW)"/>
<line x1="526.7" y1="81.3" x2="535.9" y2="86.0" stroke="#1e1e1e" stroke-width="3.2" stroke-linecap="round"/>
<line x1="535.9" y1="86.0" x2="536.5" y2="96.9" stroke="#1e1e1e" stroke-width="3.2" stroke-linecap="round"/>
<line x1="536.5" y1="96.9" x2="526.7" y2="102.1" stroke="#1e1e1e" stroke-width="3.2" stroke-linecap="round"/>
<line x1="526.7" y1="102.1" x2="516.9" y2="96.9" stroke="#1e1e1e" stroke-width="3.2" stroke-linecap="round"/>
<line x1="516.9" y1="96.9" x2="516.9" y2="86.0" stroke="#1e1e1e" stroke-width="3.2" stroke-linecap="round"/>
<line x1="516.9" y1="86.0" x2="526.7" y2="81.3" stroke="#1e1e1e" stroke-width="3.2" stroke-linecap="round"/>
<line x1="526.7" y1="81.3" x2="526.1" y2="71.0" stroke="#1e1e1e" stroke-width="3.2" stroke-linecap="round"/>
<line x1="526.1" y1="71.0" x2="533.5" y2="68.5" stroke="#1e1e1e" stroke-width="3.2" stroke-linecap="round"/>
<line x1="535.9" y1="86.0" x2="545.7" y2="79.6" stroke="#1e1e1e" stroke-width="3.2" stroke-linecap="round"/>
<line x1="536.5" y1="96.9" x2="547.5" y2="103.2" stroke="#1e1e1e" stroke-width="3.2" stroke-linecap="round"/>
<line x1="526.7" y1="102.1" x2="527.3" y2="115.4" stroke="#1e1e1e" stroke-width="3.2" stroke-linecap="round"/>
<line x1="516.9" y1="96.9" x2="507.1" y2="103.8" stroke="#1e1e1e" stroke-width="3.2" stroke-linecap="round"/>
<line x1="516.9" y1="86.0" x2="507.1" y2="80.8" stroke="#1e1e1e" stroke-width="3.2" stroke-linecap="round"/>
<circle cx="526.7" cy="81.3" r="2.8" fill="url(#gK)"/>
<circle cx="535.9" cy="86.0" r="2.8" fill="url(#gK)"/>
<circle cx="536.5" cy="96.9" r="2.8" fill="url(#gK)"/>
<circle cx="526.7" cy="102.1" r="2.8" fill="url(#gK)"/>
<circle cx="516.9" cy="96.9" r="2.8" fill="url(#gK)"/>
<circle cx="516.9" cy="86.0" r="2.8" fill="url(#gK)"/>
<circle cx="526.1" cy="71.0" r="3.6" fill="url(#gO)"/>
<circle cx="533.5" cy="68.5" r="3.0" fill="url(#gW)"/>
<circle cx="545.7" cy="79.6" r="4.0" fill="url(#gCl)"/>
<circle cx="547.5" cy="103.2" r="4.0" fill="url(#gCl)"/>
<circle cx="527.3" cy="115.4" r="4.0" fill="url(#gCl)"/>
<circle cx="507.1" cy="103.8" r="4.0" fill="url(#gCl)"/>
<circle cx="507.1" cy="80.8" r="4.0" fill="url(#gCl)"/>
<line x1="495.4" y1="141.3" x2="480.3" y2="127.8" stroke="#1e1e1e" stroke-width="5.0" stroke-linecap="round"/>
<line x1="495.4" y1="141.3" x2="513.0" y2="131.8" stroke="#1e1e1e" stroke-width="5.0" stroke-linecap="round"/>
<line x1="495.4" y1="141.3" x2="485.0" y2="149.3" stroke="#1e1e1e" stroke-width="5.0" stroke-linecap="round"/>
<line x1="495.4" y1="141.3" x2="496.2" y2="154.9" stroke="#1e1e1e" stroke-width="5.0" stroke-linecap="round"/>
<line x1="496.2" y1="154.9" x2="498.6" y2="147.7" stroke="#1e1e1e" stroke-width="5.0" stroke-linecap="round"/>
<line x1="496.2" y1="154.9" x2="482.7" y2="166.1" stroke="#1e1e1e" stroke-width="5.0" stroke-linecap="round"/>
<line x1="496.2" y1="154.9" x2="509.8" y2="162.9" stroke="#1e1e1e" stroke-width="5.0" stroke-linecap="round"/>
<line x1="482.7" y1="166.1" x2="473.1" y2="158.1" stroke="#1e1e1e" stroke-width="5.0" stroke-linecap="round"/>
<line x1="473.1" y1="158.1" x2="459.5" y2="166.1" stroke="#1e1e1e" stroke-width="5.0" stroke-linecap="round"/>
<line x1="459.5" y1="166.1" x2="453.9" y2="180.4" stroke="#1e1e1e" stroke-width="5.0" stroke-linecap="round"/>
<line x1="453.9" y1="180.4" x2="463.5" y2="188.4" stroke="#1e1e1e" stroke-width="5.0" stroke-linecap="round"/>
<line x1="463.5" y1="188.4" x2="477.9" y2="182.0" stroke="#1e1e1e" stroke-width="5.0" stroke-linecap="round"/>
<line x1="477.9" y1="182.0" x2="482.7" y2="166.1" stroke="#1e1e1e" stroke-width="5.0" stroke-linecap="round"/>
<line x1="473.1" y1="158.1" x2="475.5" y2="151.7" stroke="#1e1e1e" stroke-width="5.0" stroke-linecap="round"/>
<line x1="459.5" y1="166.1" x2="454.7" y2="163.7" stroke="#1e1e1e" stroke-width="5.0" stroke-linecap="round"/>
<line x1="477.9" y1="182.0" x2="483.5" y2="182.8" stroke="#1e1e1e" stroke-width="5.0" stroke-linecap="round"/>
<line x1="463.5" y1="188.4" x2="459.5" y2="195.0" stroke="#1e1e1e" stroke-width="5.0" stroke-linecap="round"/>
<line x1="453.9" y1="180.4" x2="439.6" y2="186.8" stroke="#1e1e1e" stroke-width="5.0" stroke-linecap="round"/>
<line x1="509.8" y1="162.9" x2="519.4" y2="170.4" stroke="#1e1e1e" stroke-width="5.0" stroke-linecap="round"/>
<line x1="519.4" y1="170.4" x2="532.1" y2="176.0" stroke="#1e1e1e" stroke-width="5.0" stroke-linecap="round"/>
<line x1="532.1" y1="176.0" x2="541.7" y2="183.6" stroke="#1e1e1e" stroke-width="5.0" stroke-linecap="round"/>
<line x1="541.7" y1="183.6" x2="535.3" y2="188.0" stroke="#1e1e1e" stroke-width="5.0" stroke-linecap="round"/>
<line x1="535.3" y1="188.0" x2="522.0" y2="180.0" stroke="#1e1e1e" stroke-width="5.0" stroke-linecap="round"/>
<line x1="522.0" y1="180.0" x2="509.8" y2="162.9" stroke="#1e1e1e" stroke-width="5.0" stroke-linecap="round"/>
<line x1="509.8" y1="162.9" x2="516.2" y2="161.3" stroke="#1e1e1e" stroke-width="5.0" stroke-linecap="round"/>
<line x1="519.4" y1="170.4" x2="509.0" y2="170.8" stroke="#1e1e1e" stroke-width="5.0" stroke-linecap="round"/>
<line x1="535.3" y1="188.0" x2="533.7" y2="190.5" stroke="#1e1e1e" stroke-width="5.0" stroke-linecap="round"/>
<line x1="541.7" y1="183.6" x2="556.0" y2="194.0" stroke="#1e1e1e" stroke-width="5.0" stroke-linecap="round"/>
<circle cx="495.4" cy="141.3" r="3.8" fill="url(#gK)"/>
<circle cx="480.3" cy="127.8" r="5.0" fill="url(#gCl)"/>
<circle cx="513.0" cy="131.8" r="5.0" fill="url(#gCl)"/>
<circle cx="485.0" cy="149.3" r="5.0" fill="url(#gCl)"/>
<circle cx="496.2" cy="154.9" r="3.8" fill="url(#gK)"/>
<circle cx="498.6" cy="147.7" r="2.8" fill="url(#gW)"/>
<circle cx="482.7" cy="166.1" r="4.0" fill="url(#gK)"/>
<circle cx="473.1" cy="158.1" r="4.0" fill="url(#gK)"/>
<circle cx="459.5" cy="166.1" r="4.0" fill="url(#gK)"/>
<circle cx="453.9" cy="180.4" r="4.0" fill="url(#gK)"/>
<circle cx="463.5" cy="188.4" r="4.0" fill="url(#gK)"/>
<circle cx="477.9" cy="182.0" r="4.0" fill="url(#gK)"/>
<circle cx="475.5" cy="151.7" r="3.0" fill="url(#gW)"/>
<circle cx="454.7" cy="163.7" r="3.0" fill="url(#gW)"/>
<circle cx="483.5" cy="182.8" r="3.0" fill="url(#gW)"/>
<circle cx="459.5" cy="195.0" r="3.0" fill="url(#gW)"/>
<circle cx="439.6" cy="186.8" r="4.5" fill="url(#gCl)"/>
<circle cx="509.8" cy="162.9" r="4.0" fill="url(#gK)"/>
<circle cx="519.4" cy="170.4" r="4.0" fill="url(#gK)"/>
<circle cx="532.1" cy="176.0" r="4.0" fill="url(#gK)"/>
<circle cx="541.7" cy="183.6" r="4.0" fill="url(#gK)"/>
<circle cx="535.3" cy="188.0" r="4.0" fill="url(#gK)"/>
<circle cx="522.0" cy="180.0" r="4.0" fill="url(#gK)"/>
<circle cx="516.2" cy="161.3" r="3.0" fill="url(#gW)"/>
<circle cx="509.0" cy="170.8" r="3.0" fill="url(#gW)"/>
<circle cx="533.7" cy="190.5" r="3.0" fill="url(#gW)"/>
<circle cx="556.0" cy="194.0" r="4.5" fill="url(#gCl)"/></svg>
</body></html>
